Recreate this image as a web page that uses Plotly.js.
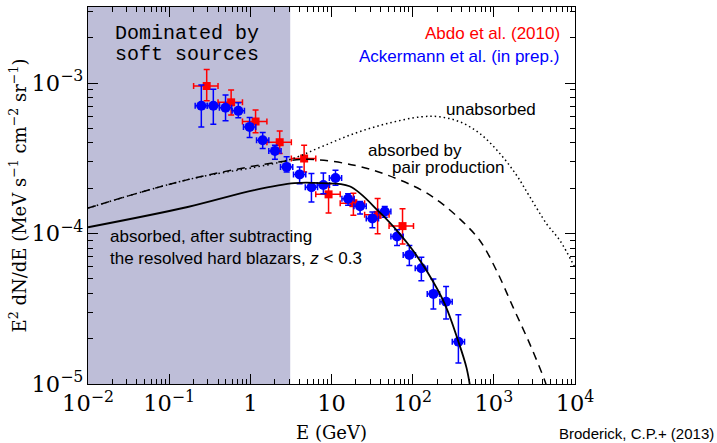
<!DOCTYPE html>
<html><head><meta charset="utf-8">
<script src="https://cdn.plot.ly/plotly-3.0.1.min.js"></script>
<style>html,body{margin:0;padding:0;background:#fff}</style>
</head><body><div id="chart" style="width:717px;height:443px"></div>
<script>
// Ackermann et al. (blue circles)
const blueE  = [0.249, 0.350, 0.495, 0.711, 0.98, 1.42, 2.01, 2.80, 4.05, 5.66, 7.94, 11.2, 16.0, 22.5, 31.9, 45.3, 64.2, 91.0, 128, 180, 258, 366];
const blueF  = [7.06e-4, 7.06e-4, 6.84e-4, 6.53e-4, 5.11e-4, 4.17e-4, 3.54e-4, 2.77e-4, 2.47e-4, 2.03e-4, 2.10e-4, 2.34e-4, 1.70e-4, 1.52e-4, 1.26e-4, 1.40e-4, 9.55e-5, 7.21e-5, 5.87e-5, 3.97e-5, 3.52e-5, 1.91e-5];
const blueHi = [9.7e-4, 9.08e-4, 8.32e-4, 7.39e-4, 5.9e-4, 4.69e-4, 3.86e-4, 3.23e-4, 2.77e-4, 2.50e-4, 2.52e-4, 2.63e-4, 1.84e-4, 1.63e-4, 1.39e-4, 1.51e-4, 1.06e-4, 8.32e-5, 6.95e-5, 4.99e-5, 4.44e-5, 2.88e-5];
const blueLo = [5.11e-4, 5.33e-4, 5.61e-4, 5.87e-4, 4.35e-4, 3.67e-4, 3.11e-4, 2.56e-4, 2.14e-4, 1.62e-4, 1.84e-4, 2.09e-4, 1.54e-4, 1.35e-4, 1.09e-4, 1.28e-4, 8.32e-5, 6.12e-5, 4.86e-5, 3.15e-5, 2.70e-5, 1.38e-5];

// Abdo et al. 2010 (red squares)
const redE   = [0.29, 0.58, 1.16, 2.3, 4.6, 9.2, 18.6, 37, 75];
const redElo = [0.2, 0.4, 0.8, 1.6, 3.2, 6.4, 12.8, 25.6, 51.2];
const redEhi = [0.4, 0.8, 1.6, 3.2, 6.4, 12.8, 25.6, 51.2, 102.4];
const redF   = [9.55e-4, 7.44e-4, 5.55e-4, 4.04e-4, 3.15e-4, 1.82e-4, 1.59e-4, 1.33e-4, 1.12e-4];
const redHi  = [1.23e-3, 8.98e-4, 6.61e-4, 4.79e-4, 3.86e-4, 2.14e-4, 1.85e-4, 1.71e-4, 1.46e-4];
const redLo  = [7.62e-4, 6.12e-4, 4.67e-4, 3.40e-4, 2.56e-4, 1.37e-4, 1.32e-4, 9.95e-5, 8.53e-5];

// Model curves
const unabsE = [0.01, 0.169, 2.88, 7.43, 19.1, 49.3, 127, 216, 381, 672, 1186, 1905, 2780, 4467, 6516, 10000];
const unabsF = [1.475e-4, 2.28e-4, 3.07e-4, 3.76e-4, 4.62e-4, 5.39e-4, 5.96e-4, 5.96e-4, 5.52e-4, 4.62e-4, 3.40e-4, 2.44e-4, 1.75e-4, 1.16e-4, 8.98e-5, 5.93e-5];
const pairE  = [0.01, 0.169, 2.88, 6.15, 19.1, 49.3, 127, 216, 381, 672, 1080, 1730, 2780, 4256, 4634];
const pairF  = [1.475e-4, 2.28e-4, 3.04e-4, 3.10e-4, 2.84e-4, 2.44e-4, 1.95e-4, 1.62e-4, 1.25e-4, 8.98e-5, 5.67e-5, 3.23e-5, 1.84e-5, 1.047e-5, 8.98e-6];
const subE   = [0.01, 0.169, 1.12, 3.49, 7.43, 16.7, 39.3, 69.3, 101, 148, 249, 363, 461, 520];
const subF   = [1.10e-4, 1.50e-4, 1.94e-4, 2.16e-4, 2.16e-4, 2.06e-4, 1.38e-4, 9.95e-5, 7.70e-5, 5.67e-5, 3.40e-5, 1.94e-5, 1.28e-5, 8.98e-6];

// Shaded region ("Dominated by soft sources")
const softRange = [0.01, 3.1];

const xRange = [-2, 4];
const yRange = [-5, -2.495];

const diff = (a, b) => a.map((v, i) => v - b[i]);

const traces = [
  {
    x: redE, y: redF, type: 'scatter', mode: 'markers',
    marker: {symbol: 'square', size: 8, color: '#ff0000'},
    error_y: {type: 'data', symmetric: false, array: diff(redHi, redF), arrayminus: diff(redF, redLo), color: '#ff0000', thickness: 1.5, width: 3},
    error_x: {type: 'data', symmetric: false, array: diff(redEhi, redE), arrayminus: diff(redE, redElo), color: '#ff0000', thickness: 1.5, width: 3},
    showlegend: false, hoverinfo: 'none'
  },
  {
    x: blueE, y: blueF, type: 'scatter', mode: 'markers',
    marker: {symbol: 'circle', size: 10, color: '#0000ff'},
    error_y: {type: 'data', symmetric: false, array: diff(blueHi, blueF), arrayminus: diff(blueF, blueLo), color: '#0000ff', thickness: 1.5, width: 3},
    error_x: {type: 'percent', symmetric: false, value: 19, valueminus: 16, color: '#0000ff', thickness: 1.5, width: 3},
    showlegend: false, hoverinfo: 'none'
  },
  {
    x: unabsE, y: unabsF, type: 'scatter', mode: 'lines',
    line: {color: '#000', width: 1.5, dash: '1.5px,3px', shape: 'spline', smoothing: 1},
    showlegend: false, hoverinfo: 'none'
  },
  {
    x: pairE, y: pairF, type: 'scatter', mode: 'lines',
    line: {color: '#000', width: 1.5, dash: '8px,6px', shape: 'spline', smoothing: 1},
    showlegend: false, hoverinfo: 'none'
  },
  {
    x: subE, y: subF, type: 'scatter', mode: 'lines',
    line: {color: '#000', width: 1.8, shape: 'spline', smoothing: 1},
    showlegend: false, hoverinfo: 'none'
  }
];

const W = 717, H = 443, ML = 88, MR = 142, MT = 7, MB = 59;
const PW = W - ML - MR, PH = H - MT - MB;
const px = x => (x - ML) / PW;
const py = y => (H - MB - y) / PH;

const sans = 'Liberation Sans, Arial, sans-serif';
const mono = 'Liberation Mono, Courier New, monospace';
function ann(text, x, y, xanchor, font) {
  return {
    text: text, x: px(x), y: py(y), xref: 'paper', yref: 'paper',
    xanchor: xanchor, yanchor: 'middle', showarrow: false,
    font: font || {family: sans, size: 17, color: '#000'}
  };
}
const annotations = [
  ann('Dominated by', 187, 34, 'center', {family: mono, size: 20, color: '#000'}),
  ann('soft sources', 187, 54, 'center', {family: mono, size: 20, color: '#000'}),
  ann('Abdo et al. (2010)', 562, 33, 'right', {family: sans, size: 17, color: '#ff0000'}),
  ann('Ackermann et al. (in prep.)', 561, 57, 'right', {family: sans, size: 17, color: '#0000ff'}),
  ann('unabsorbed', 444, 110, 'left'),
  ann('absorbed by', 366, 150, 'left'),
  ann('pair production', 390, 167, 'left'),
  ann('absorbed, after subtracting', 108, 237, 'left'),
  ann('the resolved hard blazars, <i>z</i> &lt; 0.3', 108, 258, 'left'),
  ann('Broderick, C.P.+ (2013)', 716, 433, 'right', {family: sans, size: 15, color: '#000'})
];

const serif = 'DejaVu Serif, serif';
function makeAxis(range, titleText) {
  return {
    type: 'log', range: range, dtick: 1, exponentformat: 'power',
    ticks: 'inside', ticklen: 10, tickcolor: '#000',
    showline: true, mirror: 'ticks', linecolor: '#000',
    showgrid: false, zeroline: false,
    tickfont: {family: serif, size: 18, color: '#000'},
    minor: {ticks: 'inside', ticklen: 5, tickcolor: '#000'},
    title: {text: titleText, font: {family: serif, size: 18, color: '#000'}}
  };
}

const layout = {
  width: W, height: H,
  margin: {l: ML, r: MR, t: MT, b: MB},
  xaxis: makeAxis(xRange, 'E (GeV)'),
  yaxis: makeAxis(yRange, 'E<sup>2</sup> dN/dE (MeV s<sup>−1</sup> cm<sup>−2</sup> sr<sup>−1</sup>)'),
  shapes: [{
    type: 'rect', xref: 'x', yref: 'paper', x0: softRange[0], x1: softRange[1], y0: 0, y1: 1,
    fillcolor: '#bebed8', line: {width: 0}, layer: 'below'
  }],
  annotations: annotations
};

Plotly.newPlot('chart', traces, layout, {displayModeBar: false, staticPlot: true});
</script></body></html>
